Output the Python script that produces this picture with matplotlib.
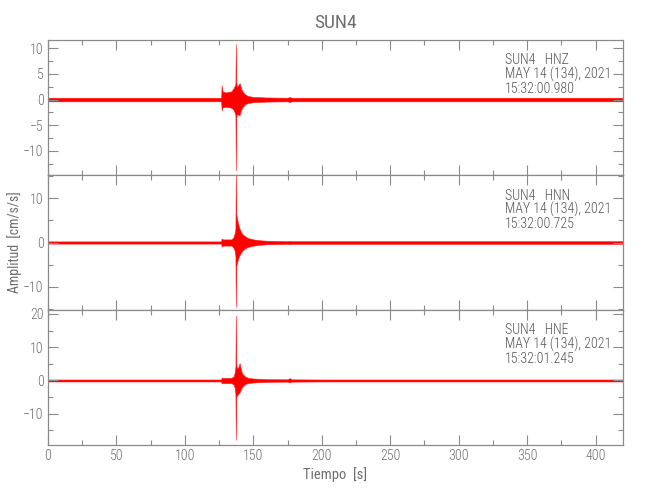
import matplotlib
matplotlib.use("Agg")
import matplotlib.pyplot as plt
from matplotlib.ticker import MultipleLocator

# ---- data (envelopes) ----
times = [0, 126.5, 126.8, 127.3, 128, 130, 132, 134, 135.5, 136.3, 136.9, 137.2,
         137.5, 138, 139, 140, 141, 142, 144, 146, 150, 155, 160, 175, 176.5, 178, 200, 420]

hnz_upper = [0.35, 0.35, 2.8, 1.8, 1.5, 1.4, 1.5, 1.6, 2.2, 2.6, 3.0, 10.8,
             3.5, 2.5, 2.8, 3.2, 2.2, 1.6, 1.0, 0.7, 0.5, 0.45, 0.4, 0.35, 0.5, 0.35, 0.35, 0.35]
hnz_lower = [-0.35, -0.35, -2.1, -1.6, -1.5, -1.4, -1.5, -1.6, -2.0, -2.5, -3.0, -13.8,
             -3.5, -2.8, -3.0, -3.0, -2.0, -1.5, -0.9, -0.7, -0.5, -0.45, -0.4, -0.35, -0.5, -0.35, -0.35, -0.35]

hnn_upper = [0.25, 0.25, 0.9, 0.8, 0.7, 0.7, 0.7, 0.7, 1.2, 2.0, 3.0, 15.5,
             6.5, 5.5, 4.0, 3.0, 2.4, 1.9, 1.4, 1.0, 0.7, 0.5, 0.4, 0.3, 0.35, 0.3, 0.3, 0.3]
hnn_lower = [-0.25, -0.25, -0.9, -0.8, -0.7, -0.7, -0.7, -0.7, -1.2, -1.8, -3.0, -14.5,
             -5.5, -4.6, -3.5, -2.8, -2.3, -1.8, -1.3, -1.0, -0.7, -0.5, -0.4, -0.3, -0.35, -0.3, -0.3, -0.3]

hne_upper = [0.3, 0.3, 0.9, 0.8, 0.8, 0.8, 0.8, 0.8, 1.2, 2.2, 4.0, 19.5,
             5.0, 3.5, 4.0, 5.2, 3.0, 2.0, 1.2, 0.8, 0.6, 0.5, 0.4, 0.35, 0.7, 0.35, 0.3, 0.3]
hne_lower = [-0.3, -0.3, -0.9, -0.8, -0.8, -0.8, -0.8, -0.8, -1.2, -2.0, -4.0, -17.8,
             -5.0, -4.5, -4.0, -3.5, -2.5, -1.8, -1.1, -0.8, -0.6, -0.5, -0.4, -0.35, -0.6, -0.35, -0.3, -0.3]

channels = ["HNZ", "HNN", "HNE"]
start_times = ["15:32:00.980", "15:32:00.725", "15:32:01.245"]
station = "SUN4"
date_text = "MAY 14 (134), 2021"
ylims = [(-14.7, 11.6), (-15.2, 15.2), (-19.4, 21.2)]
y_major = [5, 10, 10]
y_minor = [2.5, 5, 5]

# ---- style ----
plt.rcParams["font.family"] = ["Roboto Condensed", "DejaVu Sans"]
plt.rcParams["font.weight"] = 300

gray = "#8a8a8a"
tgray = "#555555"
lgray = "#6e6e6e"

fig = plt.figure(figsize=(6.5, 5), dpi=100)
left, width = 48 / 650, 575 / 650
tops = [40, 175, 310]
h = 135

uppers = [hnz_upper, hnn_upper, hne_upper]
lowers = [hnz_lower, hnn_lower, hne_lower]

axes = []
for i in range(3):
    ax = fig.add_axes([left, 1 - (tops[i] + h) / 500, width, h / 500])
    axes.append(ax)
    ax.fill_between(times, lowers[i], uppers[i], color="#ff0000", linewidth=0.4,
                    edgecolor="#ff1a1a")
    ax.set_xlim(0, 420)
    ax.set_ylim(*ylims[i])
    ax.xaxis.set_major_locator(MultipleLocator(50))
    ax.xaxis.set_minor_locator(MultipleLocator(25))
    ax.yaxis.set_major_locator(MultipleLocator(y_major[i]))
    ax.yaxis.set_minor_locator(MultipleLocator(y_minor[i]))
    ax.tick_params(which="both", direction="in", top=True, right=True,
                   color=gray, labelcolor=lgray, labelsize=10)
    ax.tick_params(which="major", length=7, width=0.8, pad=3)
    ax.tick_params(which="minor", length=3.5, width=0.8)
    for s in ax.spines.values():
        s.set_color(gray)
        s.set_linewidth(0.9)
    if i < 2:
        ax.tick_params(labelbottom=False)
    ax.text(0.795, 0.9, f"{station}   {channels[i]}\n{date_text}\n{start_times[i]}",
            transform=ax.transAxes, ha="left", va="top", fontsize=10,
            color=tgray, linespacing=0.97)

axes[0].set_title(station, fontsize=14, color=lgray, pad=9)
axes[2].set_xlabel("Tiempo  [s]", fontsize=10.5, color=lgray, labelpad=3)
axes[1].set_ylabel("Amplitud  [cm/s/s]", fontsize=10, color=lgray)
axes[1].yaxis.set_label_coords(-0.046, 0.5)

fig.savefig("out.png", dpi=100)
